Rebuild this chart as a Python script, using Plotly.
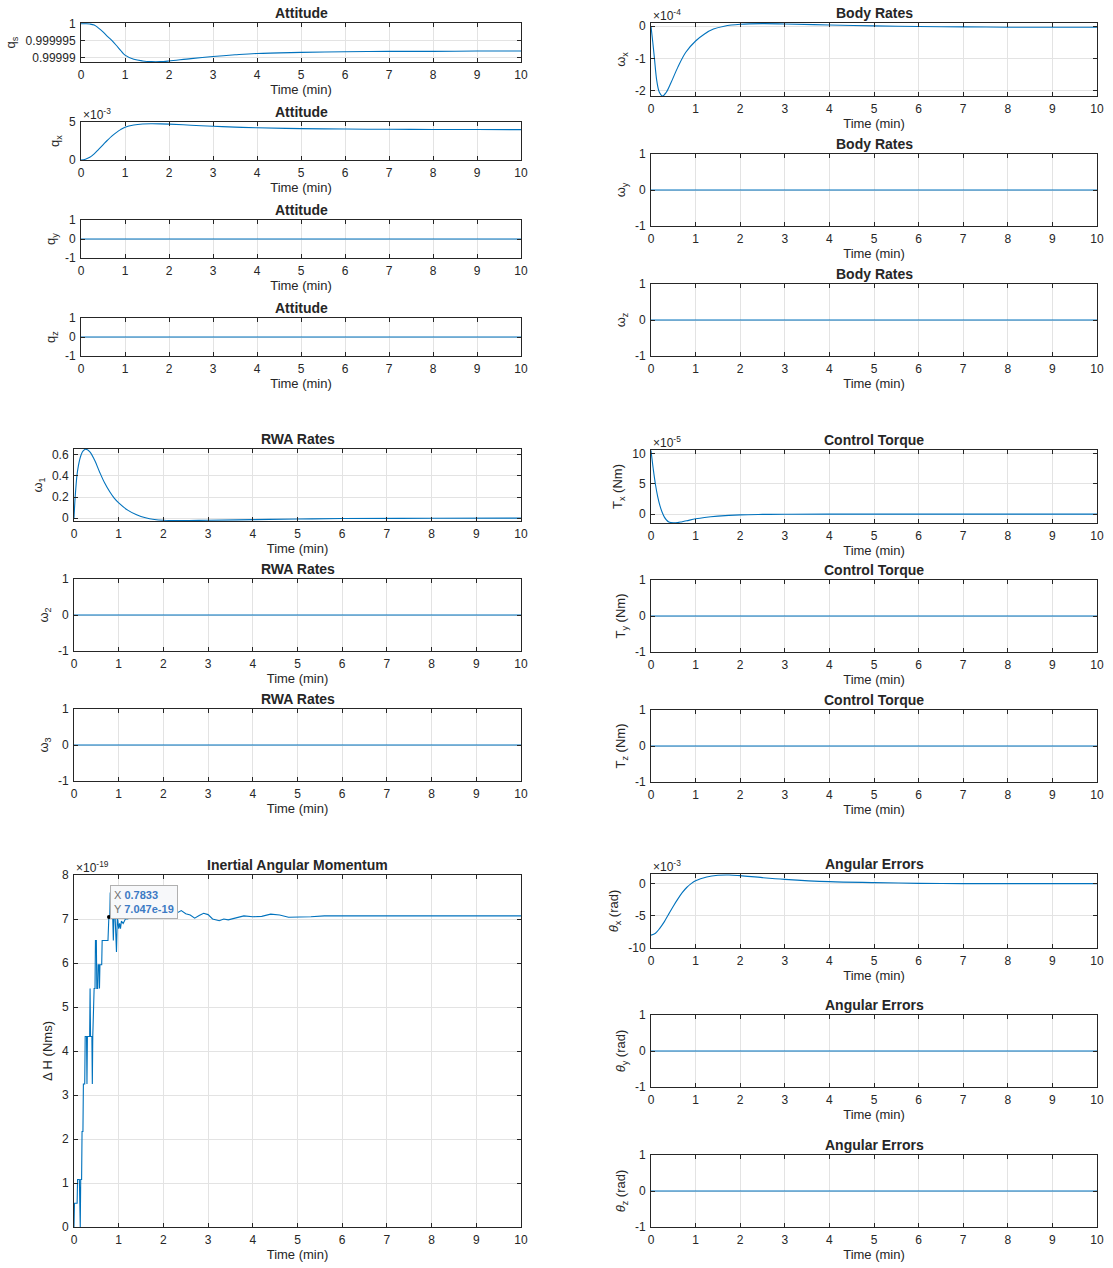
import plotly.graph_objects as go

# ---------------- data ----------------
t_att = [0, 0.1, 0.2, 0.3, 0.4, 0.5, 0.6, 0.7, 0.8, 0.9, 1.0, 1.2, 1.4, 1.6, 1.8, 2.0,
         2.5, 3, 3.5, 4, 5, 6, 7, 8, 9, 10]
q_s = [1.0, 0.99999998, 0.9999999, 0.9999996, 0.9999987, 0.9999976, 0.9999963, 0.9999951,
       0.9999937, 0.9999922, 0.9999908, 0.9999896, 0.9999891, 0.9999889, 0.9999889, 0.9999891,
       0.9999898, 0.9999904, 0.9999909, 0.9999913, 0.9999916, 0.9999918, 0.9999919, 0.9999919,
       0.9999920, 0.9999920]
q_x_e3 = [0, 0.1, 0.35, 0.8, 1.4, 2.0, 2.6, 3.15, 3.6, 4.0, 4.3, 4.6, 4.73, 4.76, 4.75, 4.72,
          4.58, 4.44, 4.33, 4.24, 4.13, 4.07, 4.04, 4.02, 4.01, 4.0]

t_zero = [0, 10]
zero = [0, 0]

t_wx = [0, 0.04, 0.075, 0.13, 0.19, 0.26, 0.34, 0.45, 0.6, 0.78, 1.0, 1.2, 1.4, 1.64, 2.0,
        2.5, 3, 4, 5, 6, 7, 8, 9, 10]
omega_x_e4 = [0, -0.5, -0.97, -1.7, -2.06, -2.17, -2.06, -1.75, -1.28, -0.81, -0.46, -0.24,
              -0.09, 0.0, 0.06, 0.08, 0.07, 0.04, 0.01, -0.01, -0.02, -0.03, -0.03, -0.03]

t_rwa = [0, 0.02, 0.04, 0.07, 0.1, 0.13, 0.16, 0.2, 0.26, 0.35, 0.46, 0.57, 0.69, 0.8, 0.9,
         1.0, 1.2, 1.4, 1.6, 1.8, 2.0, 2.4, 3, 4, 5, 6, 8, 10]
omega_1 = [0, 0.16, 0.28, 0.42, 0.5, 0.56, 0.6, 0.635, 0.653, 0.63, 0.55, 0.44, 0.33, 0.25,
           0.19, 0.145, 0.077, 0.033, 0.004, -0.012, -0.019, -0.022, -0.019, -0.013, -0.007,
           -0.003, 0.0, 0.001]

t_tq = [0, 0.05, 0.1, 0.15, 0.2, 0.25, 0.3, 0.35, 0.4, 0.5, 0.6, 0.7, 0.8, 1.0, 1.2, 1.5,
        2.0, 2.5, 3, 4, 10]
T_x_e5 = [10.5, 7.5, 4.9, 2.9, 1.4, 0.3, -0.5, -1.0, -1.3, -1.45, -1.4, -1.25, -1.1, -0.78,
          -0.55, -0.33, -0.12, -0.05, -0.02, 0, 0]

t_err = [0, 0.1, 0.2, 0.3, 0.4, 0.5, 0.6, 0.7, 0.8, 0.9, 1.0, 1.25, 1.5, 1.75, 2.0, 2.5, 3,
         4, 5, 6, 7, 8, 9, 10]
theta_x_e3 = [-8.0, -7.7, -6.9, -5.9, -4.7, -3.5, -2.4, -1.4, -0.6, 0.0, 0.45, 1.03, 1.3,
              1.35, 1.24, 0.93, 0.67, 0.31, 0.16, 0.05, 0.01, 0.0, 0.0, 0.0]

t_H = [0, 0.01, 0.07, 0.08, 0.12, 0.13, 0.14, 0.15, 0.17, 0.18, 0.2, 0.21, 0.24, 0.25, 0.28,
       0.29, 0.3, 0.35, 0.36, 0.37, 0.4, 0.41, 0.42, 0.45, 0.47, 0.48, 0.5, 0.51, 0.53, 0.54,
       0.56, 0.57, 0.58, 0.62, 0.63, 0.76, 0.78, 0.8, 0.81, 0.83, 0.86, 0.88, 0.9, 0.92, 0.95,
       0.97, 1.0, 1.02, 1.04, 1.06, 1.1, 1.15, 1.2, 1.3, 1.9, 2.0, 2.2, 2.4, 2.5, 2.6, 2.7,
       2.8, 2.9, 3.0, 3.1, 3.25, 3.35, 3.45, 3.6, 3.8, 4.0, 4.2, 4.4, 4.6, 4.8, 5.0, 5.3, 5.6,
       6, 7, 8, 10]
dH_e19 = [0, 0.54, 0.54, 1.08, 1.08, 0, 0, 1.08, 1.08, 2.17, 2.17, 3.25, 3.25, 4.33, 4.33,
          3.25, 4.33, 4.33, 5.42, 4.33, 4.33, 3.25, 4.33, 5.42, 5.42, 6.51, 6.51, 5.42, 5.42,
          5.96, 5.96, 5.42, 5.96, 5.96, 6.51, 6.51, 7.05, 7.05, 7.6, 7.05, 7.3, 6.51, 7.3, 7.05,
          6.25, 7.05, 6.78, 6.9, 6.78, 6.95, 6.9, 7.0, 7.0, 7.05, 7.05, 7.07, 7.08, 7.19, 7.12,
          7.09, 7.02, 7.08, 7.13, 7.1, 7.0, 6.96, 7.0, 6.98, 7.02, 7.07, 7.05, 7.06, 7.11, 7.09,
          7.04, 7.04, 7.05, 7.07, 7.07, 7.075, 7.07, 7.07]
tip_x = 0.7833
tip_y = 7.047

x_ticks = [0, 1, 2, 3, 4, 5, 6, 7, 8, 9, 10]
one_ticks = [-1, 0, 1]

# ---------------- layout helpers ----------------
W, H = 1113, 1268
FONT = "Liberation Sans, Arial, Helvetica, sans-serif"
TXT = "#262626"
BLUE = "#0072BD"
GRID = "#e3e3e3"

fig = go.Figure()


def panel(i, box, xs, ys, yrange, yticks, yticktext, ytitle, title, expo=None):
    x0, y0, x1, y1 = box
    xa = "xaxis" if i == 1 else f"xaxis{i}"
    ya = "yaxis" if i == 1 else f"yaxis{i}"
    xr = "x" if i == 1 else f"x{i}"
    yr = "y" if i == 1 else f"y{i}"
    fig.add_trace(go.Scatter(x=xs, y=ys, mode="lines", xaxis=xr, yaxis=yr,
                             line=dict(color=BLUE, width=1.1,
                                       shape="spline" if len(xs) < 40 else "linear",
                                       smoothing=1.0),
                             showlegend=False, hoverinfo="skip"))
    common = dict(showline=True, linecolor=TXT, linewidth=1, mirror="allticks",
                  ticks="inside", ticklen=4, tickcolor=TXT, tickwidth=1,
                  showgrid=True, gridcolor=GRID, gridwidth=1, zeroline=False,
                  automargin=False, ticklabelstandoff=2,
                  tickfont=dict(family=FONT, size=12, color=TXT))
    fig.layout[xa] = dict(domain=[x0 / W, x1 / W], anchor=yr, range=[0, 10],
                          tickvals=x_ticks,
                          title=dict(text="Time (min)", font=dict(family=FONT, size=13, color=TXT),
                                     standoff=3),
                          **common)
    fig.layout[ya] = dict(domain=[1 - y1 / H, 1 - y0 / H], anchor=xr, range=yrange,
                          tickvals=yticks, ticktext=yticktext,
                          title=dict(text=ytitle, font=dict(family=FONT, size=13, color=TXT),
                                     standoff=6),
                          **common)
    fig.add_annotation(x=(x0 + x1) / 2 / W, y=1 - y0 / H, xref="paper", yref="paper",
                       text=f"<b>{title}</b>", showarrow=False, xanchor="center",
                       yanchor="bottom", yshift=0,
                       font=dict(family=FONT, size=14, color=TXT))
    if expo is not None:
        fig.add_annotation(x=x0 / W, y=1 - y0 / H, xref="paper", yref="paper",
                           text=f"×10<sup>{expo}</sup>", showarrow=False, xanchor="left",
                           yanchor="bottom", yshift=-2,
                           font=dict(family=FONT, size=12, color=TXT))


LX_A = (81, 521)
LX_B = (74, 521)
RX = (651, 1097)

# Attitude
panel(1, (LX_A[0], 23, LX_A[1], 62), t_att, q_s, [0.9999888, 1.0000002],
      [0.99999, 0.999995, 1.0], ["0.99999", "0.999995", "1"], "q<sub>s</sub>", "Attitude")
panel(2, (LX_A[0], 122, LX_A[1], 160), t_att, q_x_e3, [0, 5], [0, 5], ["0", "5"],
      "q<sub>x</sub>", "Attitude", "-3")
panel(3, (LX_A[0], 220, LX_A[1], 258), t_zero, zero, [-1, 1], one_ticks, ["-1", "0", "1"],
      "q<sub>y</sub>", "Attitude")
panel(4, (LX_A[0], 318, LX_A[1], 356), t_zero, zero, [-1, 1], one_ticks, ["-1", "0", "1"],
      "q<sub>z</sub>", "Attitude")
# RWA rates
panel(5, (LX_B[0], 449, LX_B[1], 521), t_rwa, omega_1, [-0.026, 0.655],
      [0, 0.2, 0.4, 0.6], ["0", "0.2", "0.4", "0.6"], "ω<sub>1</sub>", "RWA Rates")
panel(6, (LX_B[0], 579, LX_B[1], 651), t_zero, zero, [-1, 1], one_ticks, ["-1", "0", "1"],
      "ω<sub>2</sub>", "RWA Rates")
panel(7, (LX_B[0], 709, LX_B[1], 781), t_zero, zero, [-1, 1], one_ticks, ["-1", "0", "1"],
      "ω<sub>3</sub>", "RWA Rates")
# Angular momentum
panel(8, (LX_B[0], 875, LX_B[1], 1227), t_H, dH_e19, [0, 8], list(range(9)),
      [str(v) for v in range(9)], "Δ H (Nms)", "Inertial Angular Momentum", "-19")
# Body rates
panel(9, (RX[0], 23, RX[1], 96), t_wx, omega_x_e4, [-2.17, 0.1], [-2, -1, 0],
      ["-2", "-1", "0"], "ω<sub>x</sub>", "Body Rates", "-4")
panel(10, (RX[0], 154, RX[1], 226), t_zero, zero, [-1, 1], one_ticks, ["-1", "0", "1"],
      "ω<sub>y</sub>", "Body Rates")
panel(11, (RX[0], 284, RX[1], 356), t_zero, zero, [-1, 1], one_ticks, ["-1", "0", "1"],
      "ω<sub>z</sub>", "Body Rates")
# Control torque
panel(12, (RX[0], 450, RX[1], 523), t_tq, T_x_e5, [-1.47, 10.6], [0, 5, 10],
      ["0", "5", "10"], "T<sub>x</sub> (Nm)", "Control Torque", "-5")
panel(13, (RX[0], 580, RX[1], 652), t_zero, zero, [-1, 1], one_ticks, ["-1", "0", "1"],
      "T<sub>y</sub> (Nm)", "Control Torque")
panel(14, (RX[0], 710, RX[1], 782), t_zero, zero, [-1, 1], one_ticks, ["-1", "0", "1"],
      "T<sub>z</sub> (Nm)", "Control Torque")
# Angular errors
panel(15, (RX[0], 874, RX[1], 948), t_err, theta_x_e3, [-10, 1.5], [-10, -5, 0],
      ["-10", "-5", "0"], "<i>θ</i><sub>x</sub> (rad)", "Angular Errors", "-3")
panel(16, (RX[0], 1015, RX[1], 1087), t_zero, zero, [-1, 1], one_ticks, ["-1", "0", "1"],
      "<i>θ</i><sub>y</sub> (rad)", "Angular Errors")
panel(17, (RX[0], 1155, RX[1], 1227), t_zero, zero, [-1, 1], one_ticks, ["-1", "0", "1"],
      "<i>θ</i><sub>z</sub> (rad)", "Angular Errors")

# data tip on the angular momentum panel
fig.add_trace(go.Scatter(x=[tip_x], y=[tip_y], mode="markers", xaxis="x8", yaxis="y8",
                         marker=dict(color="black", size=4), showlegend=False, hoverinfo="skip"))
fig.add_annotation(x=tip_x, y=tip_y, xref="x8", yref="y8", showarrow=False,
                   xanchor="left", yanchor="bottom", xshift=1, yshift=-2, align="left",
                   text=(f"<span style='color:#707070'>X</span> "
                         f"<span style='color:#3c7ac4'><b>{tip_x}</b></span><br>"
                         f"<span style='color:#707070'>Y</span> "
                         f"<span style='color:#3c7ac4'><b>{tip_y}e-19</b></span>"),
                   font=dict(family=FONT, size=11), bgcolor="#f7f8fa",
                   bordercolor="#b0b0b0", borderwidth=1, borderpad=3)

fig.update_layout(width=W, height=H,
                  margin=dict(l=0, r=0, t=0, b=0, autoexpand=False),
                  paper_bgcolor="white", plot_bgcolor="white",
                  font=dict(family=FONT, color=TXT))

fig.write_html("out.html", config={"displayModeBar": False},
               post_script="document.body.style.margin='0';")
